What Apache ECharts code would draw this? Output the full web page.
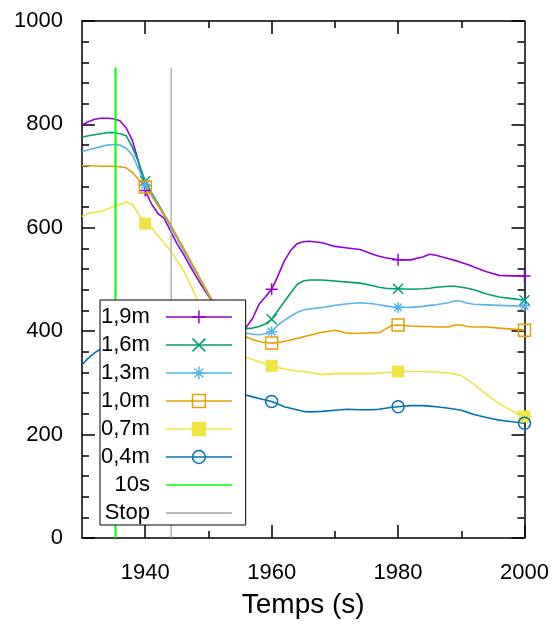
<!DOCTYPE html>
<html>
<head>
<meta charset="utf-8">
<script src="https://cdn.jsdelivr.net/npm/echarts@6/dist/echarts.min.js"></script>
<style>
  html, body { margin: 0; padding: 0; background: #fff; }
  #chart { width: 557px; height: 626px; }
</style>
</head>
<body>
<div id="chart"></div>
<script>
// Time axis (s)
const years = [1930,1931,1932,1933,1934,1935,1936,1937,1938,1939,
  1940,1941,1942,1943,1944,1945,1946,1947,1948,1949,
  1950,1951,1952,1953,1954,1955,1956,1957,1958,1959,
  1960,1961,1962,1963,1964,1965,1966,
  1968,1970,1972,1974,1976,1977,1978,1979,1980,
  1982,1984,1985,1986,1988,1989,1990,1991,1992,1994,1996,1998,2000];

// Times at which a point marker is drawn on each curve
const markerYears = [1940, 1960, 1980, 2000];

// Measured values per height
const h19 = [799,805,810,812,812,811,807,793,768,725,
  672,646,628,618,594,570,550,528,507,487,
  468,450,432,418,410,406,408,425,452,466,
  481,507,536,556,569,573,574,
  571,564,561,558,549,545,542,540,538,
  538,544,549,547,540,537,533,529,524,515,508,507,507];
const h16 = [775,778,780,782,784,784,782,778,755,725,
  690,668,647,626,606,583,560,538,516,494,
  472,452,433,418,410,406,405,406,409,414,
  423,440,457,474,490,497,499,
  499,497,495,493,488,485,483,482,482,
  481,482,483,485,487,487,485,483,480,472,466,463,460];
const h13 = [747,751,754,757,760,761,760,754,740,713,
  683,665,644,623,602,580,558,536,514,492,
  470,450,430,414,404,398,396,394,393,395,
  399,412,421,429,436,441,443,
  446,450,453,455,453,451,449,447,446,
  446,448,450,451,455,459,458,454,452,451,450,449,449];
const h10 = [720,720,720,719,719,719,718,716,707,693,
  679,662,643,625,606,584,562,540,517,494,
  472,450,430,412,400,393,389,384,380,378,
  377,378,380,383,386,389,392,
  398,402,396,396,397,397,404,411,412,
  410,409,409,408,408,412,412,409,408,408,406,404,402];
const h07 = [622,628,630,632,636,641,645,650,645,625,
  608,600,585,570,556,537,518,494,467,443,
  420,398,380,366,358,353,349,345,341,337,
  333,330,327,325,323,322,320,
  316,318,318,318,318,319,320,321,322,
  322,322,321,321,319,317,314,306,297,278,260,246,235];
const h04 = [335,348,358,366,372,376,378,379,379,378,
  376,372,366,358,348,337,325,313,302,293,
  287,283,281,280,279,278,276,273,270,267,
  264,259,254,251,248,245,244,
  245,247,249,248,248,249,251,253,254,
  256,256,255,254,251,249,247,243,239,233,228,225,222];

const seriesNames = ['1,9m', '1,6m', '1,3m', '1,0m', '0,7m', '0,4m'];
const seriesValues = [h19, h16, h13, h10, h07, h04];

// Vertical reference lines: 10 s mark and stop time
const tenSecLine = [[1935.3, 0], [1935.3, 910]];
const stopLine = [[1944.1, 0], [1944.1, 910]];

// Axis ticks
const xMajorTicks = [1940, 1960, 1980, 2000];
const xMinorTicks = [1950, 1970, 1990];

const FONT = "'Liberation Sans', Arial, sans-serif";

const colors = ['#9400d3', '#009e73', '#56b4e9', '#e69f00', '#f0e442', '#0072b2'];
const symbols = [
  'path://M0,5L10,5M5,0L5,10',                                   // plus
  'path://M0,0L10,10M10,0L0,10',                                 // cross
  'path://M0,5L10,5M5,0L5,10M1.5,1.5L8.5,8.5M8.5,1.5L1.5,8.5',    // asterisk
  'path://M0,0L10,0L10,10L0,10Z',                                // open square
  'rect',                                                        // filled square
  'path://M0,5A5,5,0,1,1,10,5A5,5,0,1,1,0,5Z'                    // open circle
];
const symbolSizes = [12, 10, 11, 12, 12, 12];
const filled = [false, false, false, false, true, false];

function buildData(vals) {
  return years.map((yr, i) =>
    markerYears.includes(yr) ? [yr, vals[i]] : { value: [yr, vals[i]], symbol: 'none' });
}

const series = seriesNames.map((name, k) => ({
  name: name,
  type: 'line',
  data: buildData(seriesValues[k]),
  symbol: symbols[k],
  symbolSize: symbolSizes[k],
  showAllSymbol: true,
  symbolKeepAspect: true,
  lineStyle: { color: colors[k], width: 1.6 },
  itemStyle: {
    color: filled[k] ? colors[k] : 'rgba(0,0,0,0)',
    borderColor: colors[k],
    borderWidth: filled[k] ? 0 : 1.5
  },
  emphasis: { disabled: true },
  z: 2
}));

series.push({
  name: '10s', type: 'line', data: tenSecLine, symbol: 'none',
  lineStyle: { color: '#00ff00', width: 2 }, itemStyle: { color: '#00ff00' },
  emphasis: { disabled: true }, z: 3
});
series.push({
  name: 'Stop', type: 'line', data: stopLine, symbol: 'none',
  lineStyle: { color: '#a0a0a0', width: 1.2 }, itemStyle: { color: '#a0a0a0' },
  emphasis: { disabled: true }, z: 3
});

const axisLineStyle = { color: '#000', width: 1.5 };
const plainNumber = v => String(v);

function xAxisDef(position, ticks, len, showLine, showLabel) {
  return {
    type: 'value', position: position, min: 1930, max: 2000, interval: 10,
    axisLine: { show: showLine, lineStyle: axisLineStyle },
    axisTick: { show: true, inside: true, length: len, customValues: ticks, lineStyle: axisLineStyle },
    axisLabel: showLabel ? {
      show: true, customValues: xMajorTicks, margin: 24, formatter: plainNumber,
      fontFamily: FONT, fontSize: 22, color: '#000'
    } : { show: false },
    splitLine: { show: false }
  };
}

function yAxisDef(position, showLabel) {
  return {
    type: 'value', position: position, min: 0, max: 1000, interval: 200,
    axisLine: { show: true, lineStyle: axisLineStyle },
    axisTick: { show: true, inside: true, length: 13, lineStyle: axisLineStyle },
    minorTick: { show: true, splitNumber: 5, length: 7, lineStyle: axisLineStyle },
    axisLabel: showLabel ? {
      show: true, margin: 19, formatter: plainNumber,
      fontFamily: FONT, fontSize: 22, color: '#000'
    } : { show: false },
    splitLine: { show: false },
    minorSplitLine: { show: false }
  };
}

const bottomMajor = xAxisDef('bottom', xMajorTicks, 13, true, true);
bottomMajor.name = 'Temps (s)';
bottomMajor.nameLocation = 'middle';
bottomMajor.nameGap = 53;
bottomMajor.nameTextStyle = { fontFamily: FONT, fontSize: 28, color: '#000' };

const option = {
  animation: false,
  backgroundColor: '#fff',
  grid: { left: 82, right: 32.5, top: 21, bottom: 88, containLabel: false, outerBoundsMode: 'none' },
  xAxis: [
    bottomMajor,
    xAxisDef('bottom', xMinorTicks, 7, false, false),
    xAxisDef('top', [1940, 1960, 1980], 13, true, false),
    xAxisDef('top', xMinorTicks, 7, false, false)
  ],
  yAxis: [
    yAxisDef('left', true),
    yAxisDef('right', false)
  ],
  legend: {
    orient: 'vertical',
    left: 100, top: 300,
    z: 10,
    align: 'right',
    selectedMode: false,
    data: seriesNames.map(n => ({ name: n })).concat([
      { name: '10s', itemStyle: { opacity: 0 } },
      { name: 'Stop', itemStyle: { opacity: 0 } }
    ]),
    itemWidth: 66, itemHeight: 16, itemGap: 6,
    padding: [6, 13, 1, 1],
    backgroundColor: '#fff',
    borderColor: '#000', borderWidth: 1, borderRadius: 0,
    lineStyle: { width: 1.5 },
    itemStyle: { borderWidth: 1.5 },
    textStyle: { fontFamily: FONT, fontSize: 22, color: '#000', lineHeight: 20, padding: [0, 11, 0, 0] }
  },
  series: series
};

const chart = echarts.init(document.getElementById('chart'), null, { renderer: 'canvas' });
chart.setOption(option);
</script>
</body>
</html>
